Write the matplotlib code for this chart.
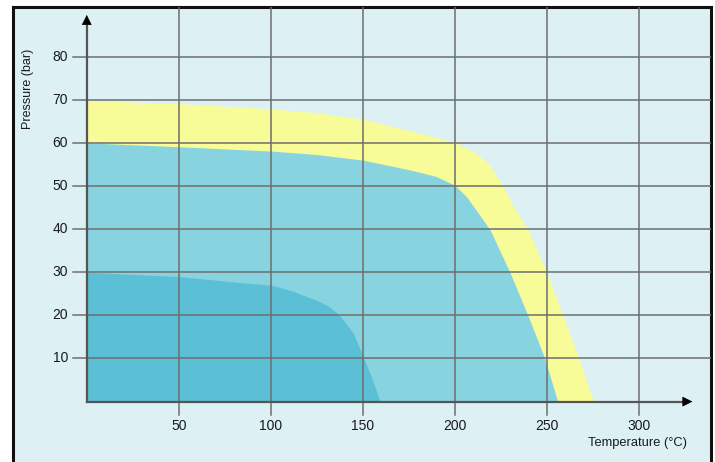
import matplotlib
matplotlib.use("Agg")
import matplotlib.pyplot as plt

# outer (yellow) envelope
yellow_temp = [0, 50, 100, 125, 150, 176, 200, 212, 219, 226.5, 233, 240, 250, 259, 267.5, 275.5]
yellow_pres = [69.8, 69.1, 67.9, 67.0, 65.5, 62.8, 60.1, 57.6, 54.9, 49.8, 44.5, 39.8, 30.0, 19.9, 10.0, 0]

# middle (light blue) envelope
mid_temp = [0, 50, 100, 125, 150, 176, 190, 200, 206.5, 215.5, 219.3, 230, 240, 249, 256]
mid_pres = [60.0, 59.1, 58.1, 57.3, 56.0, 53.7, 52.2, 50.2, 47.5, 42.1, 39.8, 30.0, 19.8, 10.0, 0]

# inner (darker blue) envelope
inner_temp = [0, 50, 88.7, 100.5, 112, 125, 132, 137.7, 145, 150.5, 155, 159.5]
inner_pres = [30.0, 29.0, 27.4, 27.0, 25.6, 23.5, 22.0, 19.9, 15.8, 10.2, 5.4, 0]

x_ticks = [50, 100, 150, 200, 250, 300]
y_ticks = [10, 20, 30, 40, 50, 60, 70, 80]

BG = "#ddf1f5"
GRID = "#6e6e6e"
AXIS = "#555555"
TXT = "#1a1a1a"

plt.rcParams['font.family'] = ['Liberation Sans', 'DejaVu Sans']


def draw_grid(ax, xmax, ymax):
    for x in x_ticks:
        ax.plot([x, x], [-3.1, ymax], color=GRID, lw=1.1, zorder=3)
    for y in y_ticks:
        ax.plot([-7.7, xmax], [y, y], color=GRID, lw=1.1, zorder=3)


def draw_axes(ax):
    ax.plot([0, 0], [0, 88.0], color=AXIS, lw=1.6, zorder=4)
    ax.plot([0, 325], [0, 0], color=AXIS, lw=1.6, zorder=4)
    ax.annotate('', xy=(0, 90.3), xytext=(0, 87.5),
                arrowprops=dict(arrowstyle='-|>', color='black', lw=0.5,
                                mutation_scale=16), zorder=5)
    ax.annotate('', xy=(330.8, 0), xytext=(324, 0),
                arrowprops=dict(arrowstyle='-|>', color='black', lw=0.5,
                                mutation_scale=16), zorder=5)


def main():
    fig = plt.figure(figsize=(7.15, 4.62), dpi=100)
    ax = fig.add_axes([13 / 715, 0, 697.5 / 715, 455 / 462])
    ax.set_facecolor(BG)
    xmin, xmax = -40.1, 339.1
    ymin, ymax = -14.0, 91.5
    ax.set_xlim(xmin, xmax)
    ax.set_ylim(ymin, ymax)

    ax.fill_between(yellow_temp, yellow_pres, 0, color="#f7fb98", lw=0, zorder=1)
    ax.fill_between(mid_temp, mid_pres, 0, color="#88d3e0", lw=0, zorder=1.5)
    ax.fill_between(inner_temp, inner_pres, 0, color="#5bc0d5", lw=0, zorder=2)

    draw_grid(ax, xmax, ymax)
    draw_axes(ax)

    for x in x_ticks:
        ax.text(x, -5.7, str(x), ha='center', va='center', fontsize=10, color=TXT)
    for y in y_ticks:
        ax.text(-10.2, y, str(y), ha='right', va='center', fontsize=10, color=TXT)

    ax.text(-32.0, 72.6, 'Pressure (bar)', rotation=90, ha='center', va='center',
            fontsize=9, color=TXT)
    ax.text(326.3, -9.6, 'Temperature (°C)', ha='right', va='center',
            fontsize=9.3, color=TXT)

    ax.set_xticks([])
    ax.set_yticks([])
    for side in ['top', 'left', 'right']:
        ax.spines[side].set_color('#111111')
        ax.spines[side].set_linewidth(2.2)
    ax.spines['bottom'].set_visible(False)

    fig.savefig('out.png', dpi=100, facecolor='white')


if(__name__ == "__main__"):
    main()
